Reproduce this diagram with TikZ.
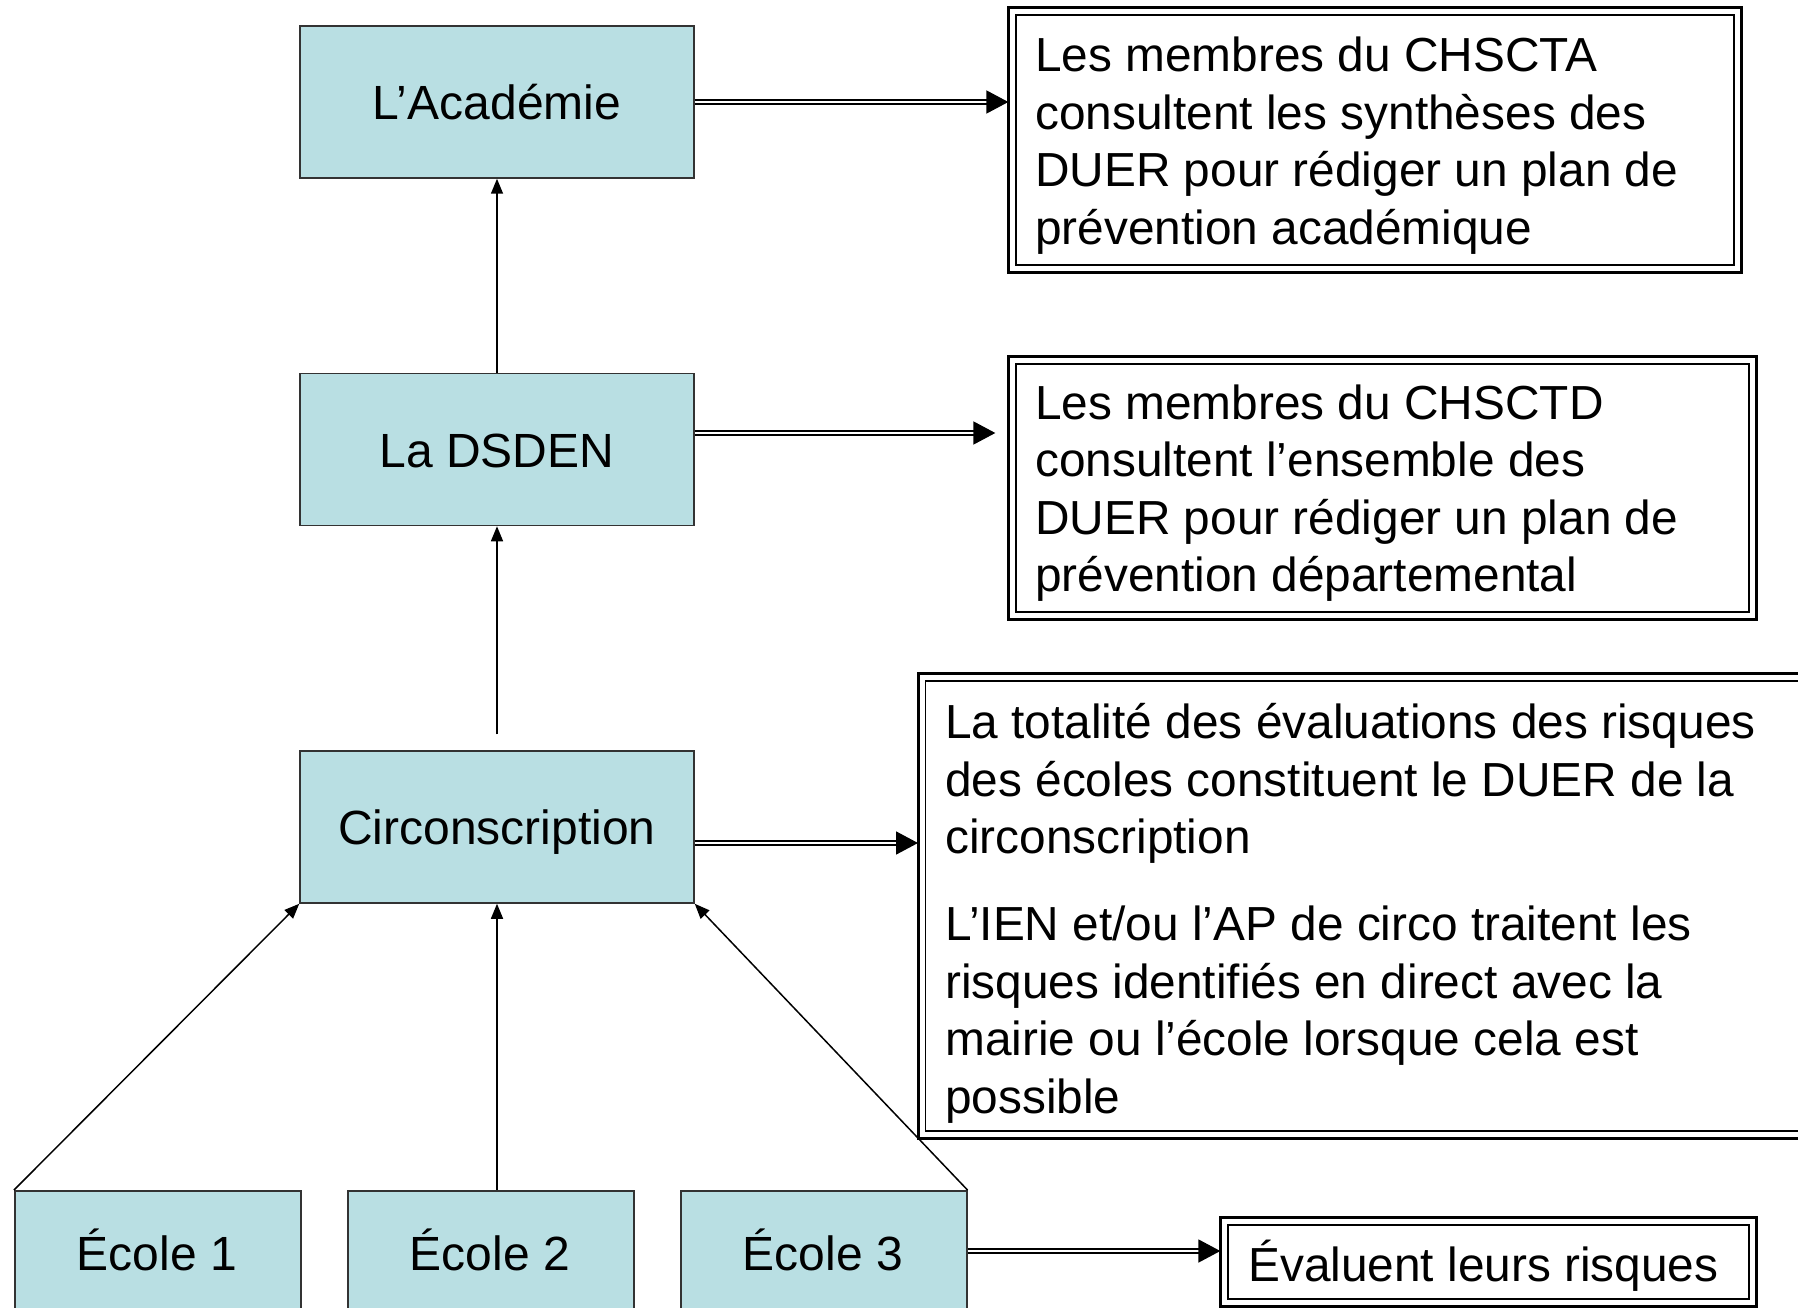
\documentclass[tikz,border=0pt]{standalone}
\usepackage{fontspec}
\setmainfont{Liberation Sans}
\usetikzlibrary{arrows.meta,calc}
\definecolor{boxblue}{HTML}{B9DFE3}
\definecolor{edge}{HTML}{333333}
\newcommand{\topstrut}{\rule{0pt}{40pt}}
\tikzset{
  bluebox/.style={draw=edge, line width=1.5pt, fill=boxblue, minimum width=394pt, minimum height=152pt,
    font=\fontsize{48pt}{57.5pt}\selectfont, inner sep=0pt, text height=35pt, text depth=0pt},
  ecole/.style={draw=edge, line width=1.5pt, fill=boxblue, minimum width=286pt, minimum height=124pt,
    inner sep=0pt, anchor=north west},
  ecolelabel/.style={font=\fontsize{48pt}{57.5pt}\selectfont, inner sep=0pt, text height=35pt, text depth=0pt},
  frame/.style={draw=black, line width=1.3pt, inner sep=0pt},
  boxtext/.style={font=\fontsize{47.8pt}{57.5pt}\selectfont, align=left, inner sep=0pt, anchor=north west},
  outerb/.style={draw=black, line width=2.8pt},
  up/.style={line width=1.5pt, -{Triangle[length=15pt,width=12pt]}},
  dbl/.style={line width=1.7pt, double=white, double distance=1.8pt},
  dtip/.style={-{Triangle[length=22pt,width=23pt]}, line width=1.7pt}
}
\begin{document}
\begin{tikzpicture}[x=1pt,y=-1pt]
\clip (0,0) rectangle (1798,1308);
\fill[white] (0,0) rectangle (1798,1308);

% blue boxes
\node[bluebox] (acad) at (497,102) {L’Académie};
\node[bluebox] (dsden) at (497,449.5) {La DSDEN};
\node[bluebox] (circ) at (497,827) {Circonscription};
\node[ecole] (e1) at (14,1190) {};
\node[ecole] (e2) at (347,1190) {};
\node[ecole] (e3) at (680,1190) {};
\node[ecolelabel] (t1) at (157,1253) {École 1};
\node[ecolelabel] (t2) at (490,1253) {École 2};
\node[ecolelabel] (t3) at (823,1253) {École 3};

% text box frames (inner rectangles)
\node[frame, minimum width=718pt, minimum height=250pt] (b1) at (1375,140) {};
\node[frame, minimum width=733pt, minimum height=248pt] (b2) at (1382.5,488) {};
\node[frame, anchor=west, minimum width=895pt, minimum height=450pt] (b3) at (925,906) {};
\node[frame, minimum width=521pt, minimum height=74pt] (b4) at (1488.5,1262) {};

% outer thick borders
\foreach \n in {b1,b2,b3,b4}
  \draw[outerb] ([shift={(-6.5pt,6.5pt)}]\n.north west) rectangle ([shift={(6.5pt,-6.5pt)}]\n.south east);

% texts
\node[boxtext] (b1t) at (1035,31.5)
  {\topstrut Les membres du CHSCTA\\consultent les synthèses des\\DUER pour rédiger un plan de\\prévention académique};
\node[boxtext] (b2t) at (1035,379)
  {\topstrut Les membres du CHSCTD\\consultent l’ensemble des\\DUER pour rédiger un plan de\\prévention départemental};
\node[boxtext] (b3t) at (945,698.5)
  {\topstrut La totalité des évaluations des risques\\des écoles constituent le DUER de la\\circonscription\\[29.5pt]L’IEN et/ou l’AP de circo traitent les\\risques identifiés en direct avec la\\mairie ou l’école lorsque cela est\\possible};
\node[boxtext] (b4t) at (1248,1239.5)
  {\topstrut Évaluent leurs risques};

% vertical / oblique arrows
\draw[up] (dsden.north) -- (acad.south);
\draw[up] ([yshift=16pt]circ.north) -- (dsden.south);
\draw[up] (e1.north west) -- (circ.south west);
\draw[up] (e2.north -| circ.south) -- (circ.south);
\draw[up] (e3.north east) -- (circ.south east);

% double arrows
\coordinate (a1s) at (acad.east);
\coordinate (a1e) at ($(b1.west)+(-7pt,0)$);
\draw[dbl] (a1s) -- ($(a1s -| a1e)+(-20pt,0)$);
\draw[dtip] ($(a1s -| a1e)+(-21pt,0)$) -- (a1s -| a1e);

\coordinate (a2s) at ([yshift=16.5pt]dsden.east);
\coordinate (a2e) at ($(b2.west)+(-20pt,0)$);
\draw[dbl] (a2s) -- ($(a2s -| a2e)+(-20pt,0)$);
\draw[dtip] ($(a2s -| a2e)+(-21pt,0)$) -- (a2s -| a2e);

\coordinate (a3s) at ([yshift=-16pt]circ.east);
\coordinate (a3e) at ($(b3.west)+(-7pt,0)$);
\draw[dbl] (a3s) -- ($(a3s -| a3e)+(-20pt,0)$);
\draw[dtip] ($(a3s -| a3e)+(-21pt,0)$) -- (a3s -| a3e);

\coordinate (a4s) at ([yshift=2pt]e3.east |- t3);
\coordinate (a4e) at ($(b4.west)+(-7pt,0)$);
\draw[dbl] (a4s) -- ($(a4s -| a4e)+(-20pt,0)$);
\draw[dtip] ($(a4s -| a4e)+(-21pt,0)$) -- (a4s -| a4e);
\end{tikzpicture}
\end{document}
